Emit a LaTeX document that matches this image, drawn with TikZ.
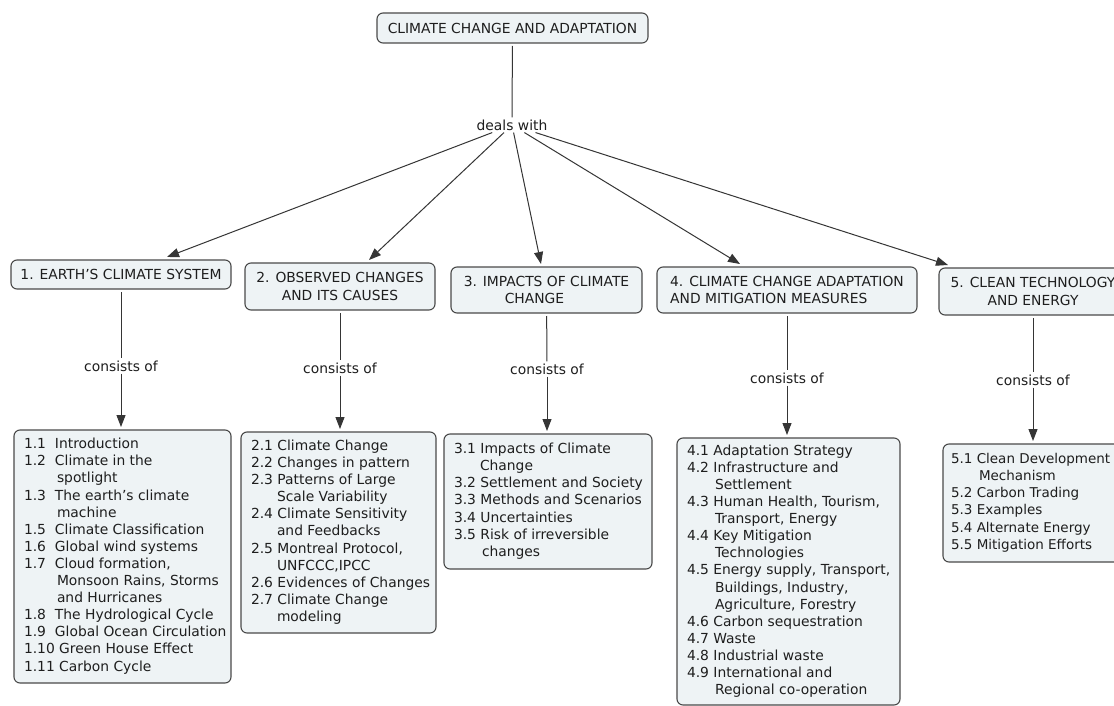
\documentclass[tikz,border=0pt]{standalone}
\usepackage{fontspec}
\setmainfont{DejaVu Sans}
\usetikzlibrary{arrows.meta}
\definecolor{boxfill}{HTML}{EEF3F5}
\definecolor{boxline}{HTML}{4A4A4A}
\definecolor{lnc}{HTML}{353535}
\definecolor{txt}{HTML}{1E1E1E}
\newcommand\numcol[1]{\makebox[31pt][l]{#1}}
\newcommand\contA{\hspace*{33pt}}
\newcommand\contB{\hspace*{26pt}}
\newcommand\contC{\hspace*{28pt}}
\begin{document}
\begin{tikzpicture}[x=1pt,y=-1pt,
  font=\fontsize{13.85}{17.1}\selectfont, text=txt,
  box/.style={draw=boxline, line width=1.1pt, fill=boxfill, rounded corners=6pt, outer sep=3pt, inner sep=0pt},
  lbl/.style={inner sep=2pt, fill=white},
  ln/.style={draw=lnc, line width=1pt},
  arr/.style={ln, -{Triangle[length=12pt,width=9pt]}}]
\useasboundingbox (0,0) rectangle (1114,706);
\fill[white] (0,0) rectangle (1114,706);

% title boxes
\node[box, minimum width=271pt, minimum height=30pt] (top) at (512.5,28) {CLIMATE CHANGE AND ADAPTATION};
\node[box, minimum width=220pt, minimum height=29pt] (box1) at (121,274.5) {1. EARTH’S CLIMATE SYSTEM};
\node[box, minimum width=190pt, minimum height=47pt, align=center] (box2) at (340,286.5) {2. OBSERVED CHANGES\\AND ITS CAUSES};
\node[box, minimum width=191pt, minimum height=46pt, align=center] (box3) at (546.5,290) {3. IMPACTS OF CLIMATE\\CHANGE\hspace*{24pt}};
\node[box, minimum width=260pt, minimum height=46pt, align=left] (box4) at (787,290) {4. CLIMATE CHANGE ADAPTATION\\AND MITIGATION MEASURES};
\node[box, minimum width=188pt, minimum height=47pt, align=center] (box5) at (1033,291.5) {5. CLEAN TECHNOLOGY\\AND ENERGY};

% list boxes
\node[box, minimum width=217pt, minimum height=253pt] (l1) at (122.5,556.5) {\makebox[197pt][l]{\begin{tabular}{@{}l@{}}
\numcol{1.1}Introduction\\
\numcol{1.2}Climate in the\\
\contA spotlight\\
\numcol{1.3}The earth’s climate\\
\contA machine\\
\numcol{1.5}Climate Classification\\
\numcol{1.6}Global wind systems\\
\numcol{1.7}Cloud formation,\\
\contA Monsoon Rains, Storms\\
\contA and Hurricanes\\
\numcol{1.8}The Hydrological Cycle\\
\numcol{1.9}Global Ocean Circulation\\
1.10 Green House Effect\\
1.11 Carbon Cycle
\end{tabular}}};

\node[box, minimum width=195pt, minimum height=201pt] (l2) at (338.5,532.5) {\makebox[175pt][l]{\begin{tabular}{@{}l@{}}
2.1 Climate Change\\
2.2 Changes in pattern\\
2.3 Patterns of Large\\
\contB Scale Variability\\
2.4 Climate Sensitivity\\
\contB and Feedbacks\\
2.5 Montreal Protocol,\\
\contB UNFCCC,IPCC\\
2.6 Evidences of Changes\\
2.7 Climate Change\\
\contB modeling
\end{tabular}}};

\node[box, minimum width=208pt, minimum height=135pt] (l3) at (548,501.5) {\makebox[188pt][l]{\begin{tabular}{@{}l@{}}
3.1 Impacts of Climate\\
\contB Change\\
3.2 Settlement and Society\\
3.3 Methods and Scenarios\\
3.4 Uncertainties\\
3.5 Risk of irreversible\\
\contC changes
\end{tabular}}};

\node[box, minimum width=223pt, minimum height=267pt] (l4) at (788.5,571.5) {\makebox[203pt][l]{\begin{tabular}{@{}l@{}}
4.1 Adaptation Strategy\\
4.2 Infrastructure and\\
\contC Settlement\\
4.3 Human Health, Tourism,\\
\contC Transport, Energy\\
4.4 Key Mitigation\\
\contC Technologies\\
4.5 Energy supply, Transport,\\
\contC Buildings, Industry,\\
\contC Agriculture, Forestry\\
4.6 Carbon sequestration\\
4.7 Waste\\
4.8 Industrial waste\\
4.9 International and\\
\contC Regional co-operation
\end{tabular}}};

\node[box, minimum width=190pt, minimum height=118pt, font=\fontsize{13.5}{17.1}\selectfont] (l5) at (1038,503) {\makebox[174pt][l]{\begin{tabular}{@{}l@{}}
5.1 Clean Development\\
\contC Mechanism\\
5.2 Carbon Trading\\
5.3 Examples\\
5.4 Alternate Energy\\
5.5 Mitigation Efforts
\end{tabular}}};

% linking phrases
\node[lbl] (deals) at (512,125) {deals with};
\node[lbl] (c1) at (121,366) {consists of};
\node[lbl] (c2) at (340,368) {consists of};
\node[lbl] (c3) at (547,369) {consists of};
\node[lbl] (c4) at (787,378) {consists of};
\node[lbl] (c5) at (1033,380) {consists of};

% connectors
\draw[ln] (top) -- (deals);
\draw[arr] (deals) -- ([xshift=46pt]box1.north);
\draw[arr] (deals) -- ([xshift=29pt]box2.north);
\draw[arr] (deals) -- ([xshift=-5.5pt]box3.north);
\draw[arr] (deals) -- ([xshift=-47pt]box4.north);
\draw[arr] (deals) -- ([xshift=-85pt]box5.north);

\draw[ln] (box1) -- (c1);
\draw[ln] (box2) -- (c2);
\draw[ln] (box3) -- (c3);
\draw[ln] (box4) -- (c4);
\draw[ln] (box5) -- (c5);
\draw[arr] (c1) -- (c1 |- l1.north);
\draw[arr] (c2) -- (c2 |- l2.north);
\draw[arr] (c3) -- (c3 |- l3.north);
\draw[arr] (c4) -- (c4 |- l4.north);
\draw[arr] (c5) -- (c5 |- l5.north);
\end{tikzpicture}
\end{document}
